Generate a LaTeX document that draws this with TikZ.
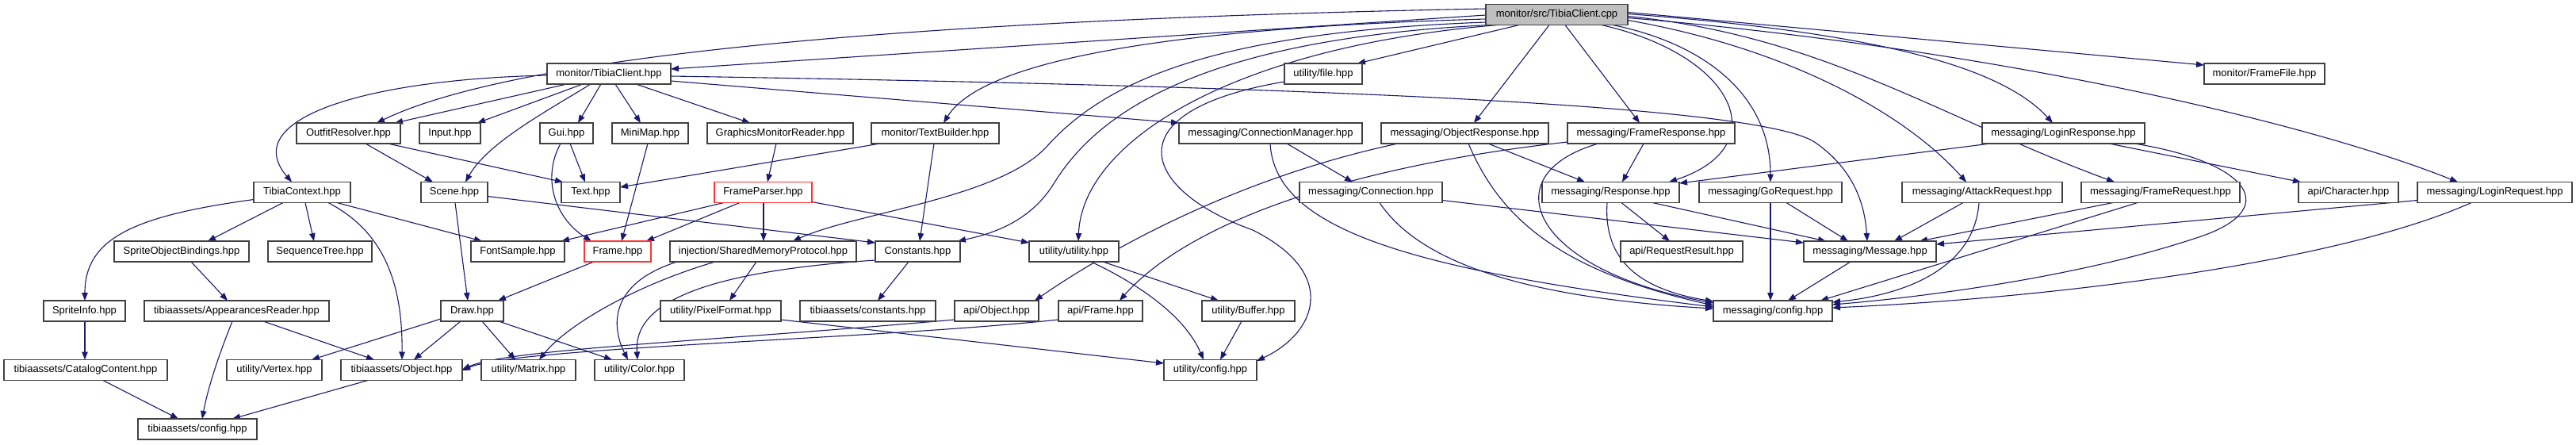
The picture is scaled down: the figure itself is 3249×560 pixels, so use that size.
\documentclass[tikz,border=0pt]{standalone}
\usepackage{fontspec}
\setmainfont{Liberation Sans}
\usetikzlibrary{arrows.meta}
\definecolor{edgeblue}{HTML}{191970}
\definecolor{boxred}{HTML}{FF3333}
\definecolor{rootgray}{HTML}{BFBFBF}
\pgfdeclarelayer{bg}
\pgfsetlayers{bg,main}
\begin{document}
\begin{tikzpicture}[x=1pt,y=-1pt,
 box/.style={draw=black!75, line width=1.3pt, fill=white, inner sep=0pt, outer sep=0pt, minimum height=26pt, font=\fontsize{13pt}{15pt}\selectfont},
 redbox/.style={box, draw=boxred},
 rootbox/.style={box, fill=rootgray},
 e/.style={draw=edgeblue, line width=1.1pt, -{Triangle[length=10pt,width=7.5pt]}}]
\useasboundingbox (0,0) rectangle (3249,560);
% row 0
\node[rootbox, minimum width=179pt] (root) at (1963.5,18.5) {monitor/src/TibiaClient.cpp};
% row 1
\node[box, minimum width=156pt] (tch) at (768,93) {monitor/TibiaClient.hpp};
\node[box, minimum width=98pt] (file) at (1669,93) {utility/file.hpp};
\node[box, minimum width=152pt] (framefile) at (2856,93) {monitor/FrameFile.hpp};
% row 2
\node[box, minimum width=131pt] (outfit) at (439.5,168) {OutfitResolver.hpp};
\node[box, minimum width=77pt] (input) at (567.5,168) {Input.hpp};
\node[box, minimum width=67pt] (gui) at (714.5,168) {Gui.hpp};
\node[box, minimum width=96pt] (minimap) at (820,168) {MiniMap.hpp};
\node[box, minimum width=184pt] (gmr) at (984,168) {GraphicsMonitorReader.hpp};
\node[box, minimum width=161pt] (textb) at (1179.5,168) {monitor/TextBuilder.hpp};
\node[box, minimum width=231pt] (connmgr) at (1602.5,168) {messaging/ConnectionManager.hpp};
\node[box, minimum width=211pt] (objresp) at (1847.5,168) {messaging/ObjectResponse.hpp};
\node[box, minimum width=211pt] (frameresp) at (2082.5,168) {messaging/FrameResponse.hpp};
\node[box, minimum width=205pt] (loginresp) at (2602.5,168) {messaging/LoginResponse.hpp};
% row 3
\node[box, minimum width=122pt] (tibiactx) at (381,242.5) {TibiaContext.hpp};
\node[box, minimum width=84pt] (scene) at (573,242.5) {Scene.hpp};
\node[box, minimum width=74pt] (text) at (745,242.5) {Text.hpp};
\node[redbox, minimum width=123pt] (fparser) at (962.5,242.5) {FrameParser.hpp};
\node[box, minimum width=180pt] (conn) at (1729,242.5) {messaging/Connection.hpp};
\node[box, minimum width=173pt] (response) at (2031.5,242.5) {messaging/Response.hpp};
\node[box, minimum width=180pt] (goreq) at (2233,242.5) {messaging/GoRequest.hpp};
\node[box, minimum width=202pt] (attack) at (2500,242.5) {messaging/AttackRequest.hpp};
\node[box, minimum width=200pt] (framereq) at (2725,242.5) {messaging/FrameRequest.hpp};
\node[box, minimum width=126pt] (character) at (2962,242.5) {api/Character.hpp};
\node[box, minimum width=195pt] (loginreq) at (3146.5,242.5) {messaging/LoginRequest.hpp};
% row 4
\node[box, minimum width=170pt] (sob) at (229,317) {SpriteObjectBindings.hpp};
\node[box, minimum width=131pt] (seqtree) at (403.5,317) {SequenceTree.hpp};
\node[box, minimum width=118pt] (fontsample) at (653,317) {FontSample.hpp};
\node[redbox, minimum width=84pt] (frame) at (779,317) {Frame.hpp};
\node[box, minimum width=235pt] (smp) at (962.5,317) {injection/SharedMemoryProtocol.hpp};
\node[box, minimum width=107pt] (constants) at (1157.5,317) {Constants.hpp};
\node[box, minimum width=113pt] (utilutil) at (1354.5,317) {utility/utility.hpp};
\node[box, minimum width=154pt] (reqresult) at (2121,317) {api/RequestResult.hpp};
\node[box, minimum width=167pt] (message) at (2358.5,317) {messaging/Message.hpp};
% row 5
\node[box, minimum width=103pt] (spriteinfo) at (106.5,392) {SpriteInfo.hpp};
\node[box, minimum width=233pt] (appreader) at (298.5,392) {tibiaassets/AppearancesReader.hpp};
\node[box, minimum width=79pt] (draw) at (595.5,392) {Draw.hpp};
\node[box, minimum width=152pt] (pixfmt) at (909,392) {utility/PixelFormat.hpp};
\node[box, minimum width=171pt] (taconst) at (1094.5,392) {tibiaassets/constants.hpp};
\node[box, minimum width=106pt] (apiobj) at (1257,392) {api/Object.hpp};
\node[box, minimum width=106pt] (apiframe) at (1388,392) {api/Frame.hpp};
\node[box, minimum width=117pt] (buffer) at (1574.5,392) {utility/Buffer.hpp};
\node[box, minimum width=150pt] (msgconfig) at (2236,392) {messaging/config.hpp};
% row 6
\node[box, minimum width=206pt] (catalog) at (108,466.5) {tibiaassets/CatalogContent.hpp};
\node[box, minimum width=120pt] (vertex) at (346,466.5) {utility/Vertex.hpp};
\node[box, minimum width=153pt] (taobject) at (506.5,466.5) {tibiaassets/Object.hpp};
\node[box, minimum width=119pt] (matrix) at (666.5,466.5) {utility/Matrix.hpp};
\node[box, minimum width=113pt] (color) at (806.5,466.5) {utility/Color.hpp};
\node[box, minimum width=117pt] (utilconfig) at (1526.5,466.5) {utility/config.hpp};
% row 7
\node[box, minimum width=150pt] (taconfig) at (249,541) {tibiaassets/config.hpp};

\begin{pgfonlayer}{bg}
\fill[white] (0,0) rectangle (3249,560);
% root
\draw[e] ([yshift=-13.5pt]root.north west) -- ([yshift=-7pt]tch.north east);
\draw[e] ([yshift=-5.5pt]root.north west) .. controls (1000,28) and (620,85) .. ([xshift=101pt]outfit.north west);
\draw[e] ([yshift=-18.5pt]root.north west) .. controls (1480,35) and (1240,75) .. ([xshift=91pt]textb.north west);
\draw[e] ([yshift=-22.5pt]root.north west) .. controls (1550,40) and (1400,95) .. (1320,185) .. controls (1260,250) and (1080,268) .. ([xshift=155pt]smp.north west);
\draw[e] ([xshift=5pt]root.south west) .. controls (1500,50) and (1380,150) .. (1330,230) .. controls (1300,280) and (1250,295) .. ([xshift=104pt]constants.north west);
\draw[e] ([xshift=15pt]root.south west) .. controls (1550,60) and (1365,180) .. ([xshift=62pt]utilutil.north west);
\draw[e] ([xshift=42pt]root.south west) -- ([xshift=92pt]file.north west);
\draw[e] ([xshift=80pt]root.south west) -- ([xshift=117pt]objresp.north west);
\draw[e] ([xshift=100pt]root.south west) -- ([xshift=91pt]frameresp.north west);
\draw[e] ([xshift=146pt]root.south west) .. controls (2190,70) and (2240,185) .. ([xshift=160pt]response.north west);
\draw[e] ([xshift=160pt]root.south west) .. controls (2150,55) and (2233,120) .. ([xshift=90pt]goreq.north west);
\draw[e] ([yshift=-20pt]root.north east) .. controls (2250,60) and (2400,140) .. ([xshift=81pt]attack.north west);
\draw[e] ([yshift=-15pt]root.north east) .. controls (2300,45) and (2450,150) .. ([xshift=42pt]framereq.north west);
\draw[e] ([yshift=-12pt]root.north east) .. controls (2350,40) and (2520,80) .. ([xshift=89pt]loginresp.north west);
\draw[e] ([yshift=-10pt]root.north east) -- ([yshift=-2pt]framefile.north west);
\draw[e] ([yshift=-17pt]root.north east) .. controls (2500,60) and (2900,150) .. ([xshift=51pt]loginreq.north west);
% monitor/TibiaClient.hpp
\draw[e] ([yshift=-15pt]tch.north west) .. controls (460,100) and (300,150) .. ([xshift=48pt]tibiactx.north west);
\draw[e] ([xshift=25pt]tch.south west) -- ([xshift=124pt]outfit.north west);
\draw[e] ([xshift=45pt]tch.south west) -- ([xshift=73pt]input.north west);
\draw[e] ([xshift=55pt]tch.south west) .. controls (690,140) and (615,180) .. ([xshift=56pt]scene.north west);
\draw[e] ([xshift=68pt]tch.south west) -- ([xshift=48pt]gui.north west);
\draw[e] ([xshift=86pt]tch.south west) -- ([xshift=36pt]minimap.north west);
\draw[e] ([xshift=112pt]tch.south west) -- ([xshift=54pt]gmr.north west);
\draw[e] ([yshift=-22pt]tch.north east) -- (connmgr.north west);
\draw[e] ([yshift=-16pt]tch.north east) .. controls (1600,108) and (2220,130) .. (2290,180) .. controls (2340,215) and (2352,260) .. ([xshift=80pt]message.north west);
% OutfitResolver
\draw[e] ([xshift=87pt]outfit.south west) -- ([xshift=15pt]scene.north west);
\draw[e] ([xshift=115pt]outfit.south west) -- ([xshift=2pt]text.north west);
% TibiaContext
\draw[e] ([yshift=-22pt]tibiactx.north west) .. controls (170,272) and (107,300) .. ([xshift=52pt]spriteinfo.north west);
\draw[e] ([xshift=37pt]tibiactx.south west) -- ([xshift=118pt]sob.north west);
\draw[e] ([xshift=65pt]tibiactx.south west) -- ([xshift=58pt]seqtree.north west);
\draw[e] ([xshift=94pt]tibiactx.south west) .. controls (480,290) and (508,350) .. ([xshift=77pt]taobject.north west);
\draw[e] ([xshift=105pt]tibiactx.south west) -- ([xshift=14pt]fontsample.north west);
% Scene
\draw[e] ([xshift=43pt]scene.south west) -- ([xshift=34pt]draw.north west);
\draw[e] ([yshift=-18pt]scene.north east) -- ([yshift=-2pt]constants.north west);
% Gui, MiniMap, GMR
\draw[e] ([xshift=38pt]gui.south west) -- ([xshift=30pt]text.north west);
\draw[e] ([xshift=26pt]gui.south west) .. controls (683,225) and (700,275) .. ([xshift=9pt]frame.north west);
\draw[e] ([xshift=45pt]minimap.south west) -- ([xshift=47pt]frame.north west);
\draw[e] ([xshift=87pt]gmr.south west) -- ([xshift=67pt]fparser.north west);
% TextBuilder
\draw[e] ([xshift=11pt]textb.south west) -- ([yshift=-6.5pt]text.north east);
\draw[e] ([xshift=79pt]textb.south west) -- ([xshift=56pt]constants.north west);
% FrameParser
\draw[e] ([xshift=12pt]fparser.south west) -- ([xshift=114pt]fontsample.north west);
\draw[e] ([xshift=32pt]fparser.south west) -- ([xshift=78pt]frame.north west);
\draw[e] ([xshift=62pt]fparser.south west) -- ([xshift=118pt]smp.north west);
\draw[e] ([yshift=-25pt]fparser.north east) -- ([yshift=-2pt]utilutil.north west);
% ConnectionManager
\draw[e] ([xshift=136pt]connmgr.south west) -- ([xshift=67pt]conn.north west);
\draw[e] ([xshift=115pt]connmgr.south west) .. controls (1608,290) and (1780,340) .. ([yshift=-8pt]msgconfig.north west);
% ObjectResponse
\draw[e] ([xshift=21pt]objresp.south west) .. controls (1580,220) and (1420,300) .. ([xshift=101pt]apiobj.north west);
\draw[e] ([xshift=135pt]objresp.south west) -- ([xshift=54pt]response.north west);
\draw[e] ([xshift=110pt]objresp.south west) .. controls (1890,270) and (1960,340) .. ([yshift=-6pt]msgconfig.north west);
% FrameResponse
\draw[e] ([yshift=-24pt]frameresp.north west) .. controls (1700,210) and (1500,280) .. ([xshift=77pt]apiframe.north west);
\draw[e] ([xshift=96pt]frameresp.south west) -- ([xshift=101pt]response.north west);
\draw[e] ([xshift=39pt]frameresp.south west) .. controls (1880,220) and (1930,340) .. ([yshift=-3pt]msgconfig.north west);
% LoginResponse
\draw[e] ([xshift=10pt]loginresp.south west) -- ([yshift=-1.5pt]response.north east);
\draw[e] ([xshift=160pt]loginresp.south west) -- ([xshift=3pt]character.north west);
\draw[e] ([xshift=192pt]loginresp.south west) .. controls (2840,205) and (2880,265) .. (2770,300) .. controls (2620,350) and (2420,375) .. ([yshift=-5pt]msgconfig.north east);
% Connection
\draw[e] ([xshift=101pt]conn.south west) .. controls (1790,330) and (1920,375) .. ([yshift=-10pt]msgconfig.north west);
\draw[e] ([yshift=-23pt]conn.north east) -- ([yshift=-2pt]message.north west);
% Response
\draw[e] ([xshift=100pt]response.south west) -- ([xshift=62pt]reqresult.north west);
\draw[e] ([xshift=82pt]response.south west) .. controls (2022,330) and (2070,365) .. ([yshift=-1pt]msgconfig.north west);
\draw[e] ([xshift=139pt]response.south west) -- ([xshift=28pt]message.north west);
% GoRequest
\draw[e] ([xshift=90pt]goreq.south west) -- ([xshift=72pt]msgconfig.north west);
\draw[e] ([xshift=110pt]goreq.south west) -- ([xshift=56pt]message.north west);
% AttackRequest
\draw[e] ([xshift=77pt]attack.south west) -- ([xshift=114pt]message.north west);
\draw[e] ([xshift=97pt]attack.south west) .. controls (2490,340) and (2400,372) .. ([yshift=-2pt]msgconfig.north east);
% FrameRequest
\draw[e] ([xshift=40pt]framereq.south west) -- ([xshift=146pt]message.north west);
\draw[e] ([xshift=71pt]framereq.south west) -- ([xshift=135pt]msgconfig.north west);
% LoginRequest
\draw[e] ([yshift=-23pt]loginreq.north west) -- ([yshift=-4pt]message.north east);
\draw[e] ([xshift=68pt]loginreq.south west) .. controls (2950,330) and (2600,375) .. ([yshift=-9pt]msgconfig.north east);
% Message
\draw[e] ([xshift=59pt]message.south west) -- ([xshift=94pt]msgconfig.north west);
% tibiaassets
\draw[e] ([xshift=97pt]sob.south west) -- ([xshift=105pt]appreader.north west);
\draw[e] ([xshift=52pt]spriteinfo.south west) -- ([xshift=102pt]catalog.north west);
\draw[e] ([xshift=111pt]appreader.south west) .. controls (275,450) and (262,490) .. ([xshift=81pt]taconfig.north west);
\draw[e] ([xshift=150pt]appreader.south west) -- ([xshift=42pt]taobject.north west);
\draw[e] ([xshift=125pt]catalog.south west) -- ([xshift=51pt]taconfig.north west);
\draw[e] ([xshift=34pt]taobject.south west) -- ([xshift=119pt]taconfig.north west);
% Frame, Draw
\draw[e] ([xshift=12pt]frame.south west) -- ([xshift=72pt]draw.north west);
\draw[e] ([yshift=-23pt]draw.north west) -- ([xshift=107pt]vertex.north west);
\draw[e] ([xshift=25pt]draw.south west) -- ([xshift=92pt]taobject.north west);
\draw[e] ([xshift=52pt]draw.south west) -- ([xshift=43pt]matrix.north west);
\draw[e] ([xshift=73pt]draw.south west) -- ([xshift=22pt]color.north west);
% SharedMemoryProtocol
\draw[e] ([xshift=9pt]smp.south west) .. controls (760,360) and (775,420) .. ([xshift=42pt]color.north west);
\draw[e] ([xshift=57pt]smp.south west) .. controls (800,360) and (715,410) .. ([xshift=73pt]matrix.north west);
\draw[e] ([xshift=109pt]smp.south west) -- ([xshift=87pt]pixfmt.north west);
\draw[e] ([yshift=-24pt]pixfmt.north east) -- ([yshift=-4.5pt]utilconfig.north west);
% Constants
\draw[e] ([xshift=42pt]constants.south west) -- ([xshift=98pt]taconst.north west);
\draw[e] ([yshift=-24pt]constants.north west) .. controls (850,345) and (800,395) .. ([xshift=54pt]color.north west);
% utility
\draw[e] ([xshift=78pt]utilutil.south west) .. controls (1440,360) and (1495,400) .. ([xshift=50pt]utilconfig.north west);
\draw[e] ([xshift=93pt]utilutil.south west) -- ([xshift=21pt]buffer.north west);
\draw[e] ([xshift=50pt]buffer.south west) -- ([xshift=71pt]utilconfig.north west);
\draw[e] ([yshift=-23pt]file.north west) .. controls (1400,140) and (1440,240) .. (1580,290) .. controls (1690,345) and (1660,420) .. ([yshift=-1.5pt]utilconfig.north east);
% api
\draw[e] ([yshift=-24pt]apiobj.north west) .. controls (900,430) and (640,440) .. ([yshift=-12.5pt]taobject.north east);
\draw[e] ([yshift=-24pt]apiframe.north west) .. controls (1100,428) and (650,438) .. ([yshift=-13.5pt]taobject.north east);
\end{pgfonlayer}
\end{tikzpicture}
\end{document}
